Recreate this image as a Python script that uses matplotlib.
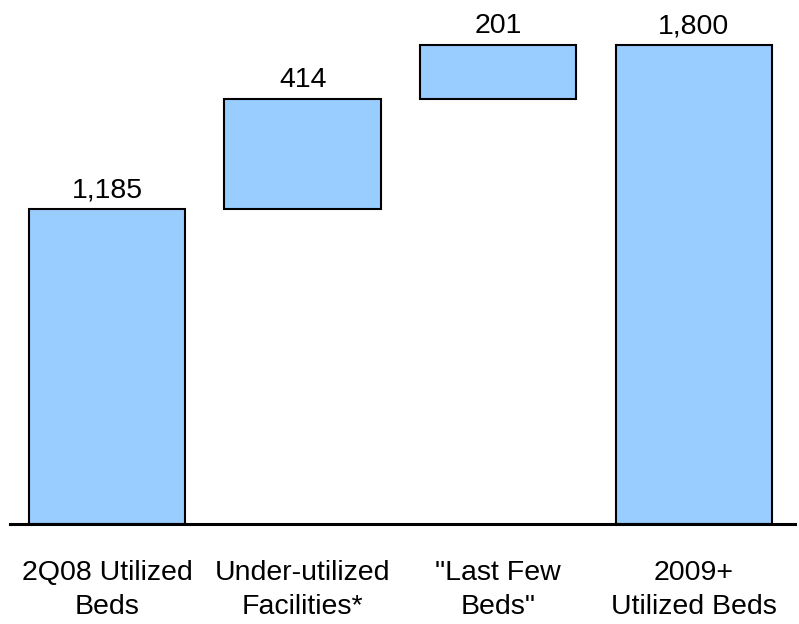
import matplotlib.pyplot as plt
import numpy as np

plt.rcParams['font.family'] = ['Liberation Sans', 'DejaVu Sans']

categories = ['2Q08 Utilized\nBeds', 'Under-utilized\nFacilities*', '"Last Few\nBeds"', '2009+\nUtilized Beds']
values = [1185, 414, 201, 1800]
is_total = [True, False, False, True]

# floating bars start where the running total left off
bottoms = []
running = 0
for v, total in zip(values, is_total):
    if total:
        bottoms.append(0)
        running = v
    else:
        bottoms.append(running)
        running += v

fig = plt.figure(figsize=(7.99, 6.24), dpi=100)
ax = fig.add_axes([10 / 799, 100 / 624, 785 / 799, 504 / 624])

x = np.arange(len(values))
ax.bar(x, values, bottom=bottoms, width=0.8, color='#99ccff', edgecolor='black', linewidth=1.5)

for xi, v, b in zip(x, values, bottoms):
    ax.annotate('{:,}'.format(v), (xi, b + v), xytext=(0, 4), textcoords='offset points',
                ha='center', va='bottom', fontsize=20.5)

ax.set_xlim(-0.497, 3.518)
ax.set_ylim(0, 1894)
ax.set_xticks(x)
ax.set_xticklabels(categories, fontsize=20.5, linespacing=1.4)
ax.tick_params(axis='x', length=0, pad=26)
ax.set_yticks([])
for side in ['top', 'right', 'left']:
    ax.spines[side].set_visible(False)
ax.spines['bottom'].set_linewidth(2.2)

fig.savefig('out.png', dpi=100)
